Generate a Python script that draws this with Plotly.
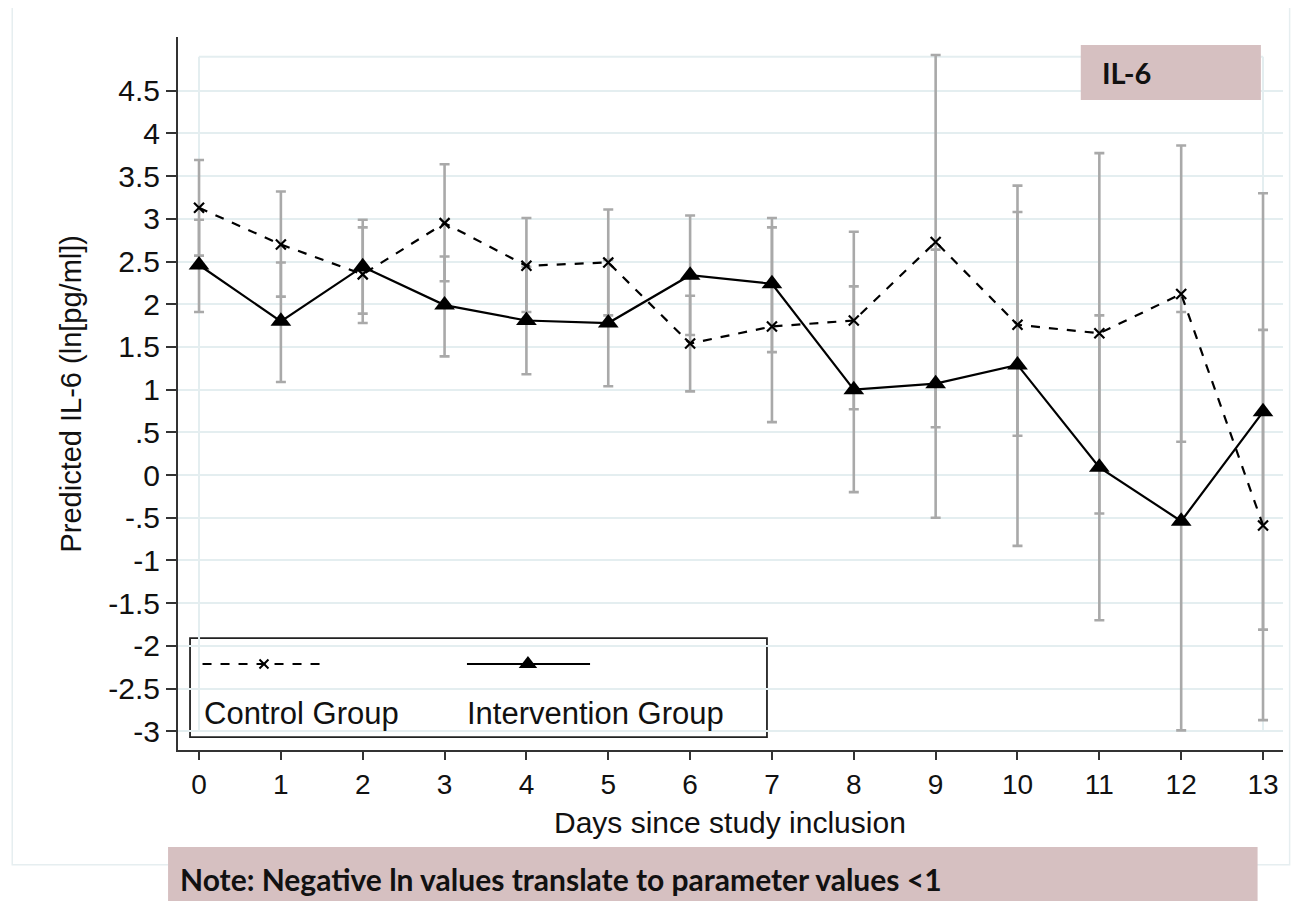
import plotly.graph_objects as go

days = list(range(14))

control_mean = [3.13, 2.70, 2.35, 2.95, 2.45, 2.49, 1.54, 1.74, 1.81, 2.73, 1.76, 1.66, 2.12, -0.59]
control_upper = [3.69, 3.32, 2.90, 3.64, 3.01, 3.11, 2.10, 2.90, 2.85, 4.92, 3.08, 3.77, 3.86, 1.70]
control_lower = [2.57, 2.09, 1.78, 2.27, 1.91, 1.87, 0.98, 0.62, 0.77, 0.56, 0.46, -0.45, 0.39, -2.87]

interv_mean = [2.46, 1.80, 2.44, 1.99, 1.81, 1.78, 2.34, 2.24, 1.00, 1.07, 1.29, 0.09, -0.54, 0.74]
interv_upper = [2.99, 2.49, 2.99, 2.56, 2.44, 2.52, 3.04, 3.01, 2.21, 2.64, 3.39, 1.87, 1.91, 3.30]
interv_lower = [1.91, 1.09, 1.89, 1.39, 1.18, 1.04, 1.64, 1.44, -0.20, -0.50, -0.83, -1.70, -2.99, -1.81]

ytick_vals = [4.5, 4, 3.5, 3, 2.5, 2, 1.5, 1, 0.5, 0, -0.5, -1, -1.5, -2, -2.5, -3]
ytick_text = ["4.5", "4", "3.5", "3", "2.5", "2", "1.5", "1", ".5", "0", "-.5", "-1", "-1.5", "-2", "-2.5", "-3"]

legend_names = ["Control Group", "Intervention Group"]

FONT = "Liberation Sans, Arial, sans-serif"
BOLD_FONT = "Lato, Open Sans, sans-serif"
ERR_COLOR = "#a9a9a9"

fig = go.Figure()

def add_err(mean, up, lo):
    fig.add_trace(go.Scatter(
        x=days, y=mean, mode="markers",
        marker=dict(size=1, opacity=0),
        error_y=dict(type="data", symmetric=False,
                     array=[u - m for u, m in zip(up, mean)],
                     arrayminus=[m - l for m, l in zip(mean, lo)],
                     color=ERR_COLOR, thickness=2.6, width=5),
        showlegend=False, hoverinfo="skip"))

add_err(control_mean, control_upper, control_lower)
add_err(interv_mean, interv_upper, interv_lower)

fig.add_trace(go.Scatter(
    x=days, y=control_mean, mode="lines+markers", name=legend_names[0],
    line=dict(color="black", width=2.2, dash="dash"),
    marker=dict(symbol="x-thin", size=10, color="black", line=dict(width=2.2, color="black")),
    showlegend=False))
fig.add_trace(go.Scatter(
    x=days, y=interv_mean, mode="lines+markers", name=legend_names[1],
    line=dict(color="black", width=2.2),
    marker=dict(symbol="triangle-up", size=18, color="black"),
    showlegend=False))

# legend key samples on a helper axis (paper-like coordinates)
fig.add_trace(go.Scatter(
    x=[0.0222, 0.133], y=[0.1206, 0.1206], xaxis="x2", yaxis="y2", mode="lines",
    line=dict(color="black", width=1.8, dash="dash"), showlegend=False, hoverinfo="skip"))
fig.add_trace(go.Scatter(
    x=[0.0778], y=[0.1206], xaxis="x2", yaxis="y2", mode="markers",
    marker=dict(symbol="x-thin", size=9, color="black", line=dict(width=2, color="black")),
    showlegend=False, hoverinfo="skip"))
fig.add_trace(go.Scatter(
    x=[0.2615, 0.3729], y=[0.1206, 0.1206], xaxis="x2", yaxis="y2", mode="lines",
    line=dict(color="black", width=2.2), showlegend=False, hoverinfo="skip"))
fig.add_trace(go.Scatter(
    x=[0.3167], y=[0.1206], xaxis="x2", yaxis="y2", mode="markers",
    marker=dict(symbol="triangle-up", size=16, color="black"),
    showlegend=False, hoverinfo="skip"))

shapes = [
    # outer faint frame
    dict(type="rect", xref="paper", yref="paper", x0=-0.150, x1=1.006, y0=-0.161, y1=1.0435,
         line=dict(color="#e6eef0", width=1.5), layer="below"),
    # inner plot region outline
    dict(type="line", xref="x", yref="y", x0=0, x1=0, y0=-3, y1=4.9,
         line=dict(color="#e4eef0", width=2), layer="below"),
    dict(type="line", xref="x", yref="y", x0=13, x1=13, y0=-3, y1=4.9,
         line=dict(color="#e4eef0", width=2), layer="below"),
    dict(type="line", xref="x", yref="y", x0=0, x1=13, y0=4.9, y1=4.9,
         line=dict(color="#e4eef0", width=2), layer="below"),
    # legend box
    dict(type="rect", xref="paper", yref="paper", x0=0.0109, x1=0.533, y0=0.018, y1=0.157,
         line=dict(color="#222222", width=1.8), fillcolor="white", layer="below"),
    # IL-6 box
    dict(type="rect", xref="paper", yref="paper", x0=0.817, x1=0.980, y0=0.9116, y1=0.9888,
         line=dict(width=0), fillcolor="#d6c0c1", layer="above"),
    # note box
    dict(type="rect", xref="paper", yref="paper", x0=-0.009, x1=0.977, y0=-0.215, y1=-0.136,
         line=dict(width=0), fillcolor="#d6c0c1", layer="above"),
]

annotations = [
    dict(text="Predicted IL-6 (ln[pg/ml])", xref="paper", yref="paper", x=-0.0977, y=0.50,
         textangle=-90, showarrow=False, font=dict(family=FONT, size=29, color="#111"),
         xanchor="center", yanchor="middle"),
    dict(text="Days since study inclusion", xref="paper", yref="paper", x=0.4995, y=-0.101,
         showarrow=False, font=dict(family=FONT, size=30, color="#111"),
         xanchor="center", yanchor="middle"),
    dict(text=legend_names[0], xref="paper", yref="paper", x=0.0220, y=0.0505,
         showarrow=False, font=dict(family=FONT, size=31, color="#111"),
         xanchor="left", yanchor="middle"),
    dict(text=legend_names[1], xref="paper", yref="paper", x=0.2600, y=0.0505,
         showarrow=False, font=dict(family=FONT, size=31, color="#111"),
         xanchor="left", yanchor="middle"),
    dict(text="<b>IL-6</b>", xref="paper", yref="paper", x=0.834, y=0.9505,
         showarrow=False, font=dict(family=BOLD_FONT, size=29, color="#111"),
         xanchor="left", yanchor="middle"),
    dict(text="<b>Note: Negative ln values translate to parameter values <1</b>",
         xref="paper", yref="paper", x=0.0, y=-0.181,
         showarrow=False, font=dict(family=BOLD_FONT, size=30, color="#111"),
         xanchor="left", yanchor="middle"),
]

fig.update_layout(
    width=1291, height=893,
    margin=dict(l=170, r=16, t=29, b=151),
    paper_bgcolor="white", plot_bgcolor="white",
    showlegend=False,
    xaxis=dict(range=[-0.257, 13.244], tickvals=days, ticktext=[str(d) for d in days],
               showgrid=False, zeroline=False, showline=True, linecolor="#333", linewidth=2,
               ticks="outside", ticklen=8, tickwidth=2, tickcolor="#333",
               tickfont=dict(family=FONT, size=28, color="#111")),
    yaxis=dict(range=[-3.22, 5.13], tickvals=ytick_vals, ticktext=ytick_text,
               showgrid=True, gridcolor="#e4eef0", gridwidth=2, zeroline=False,
               showline=True, linecolor="#333", linewidth=2,
               ticks="outside", ticklen=10, tickwidth=2, tickcolor="#333",
               tickfont=dict(family=FONT, size=30, color="#111")),
    xaxis2=dict(domain=[0, 1], range=[0, 1], visible=False, anchor="y2", overlaying="x"),
    yaxis2=dict(domain=[0, 1], range=[0, 1], visible=False, anchor="x2", overlaying="y"),
    shapes=shapes,
    annotations=annotations,
)

fig.write_html("out.html")
